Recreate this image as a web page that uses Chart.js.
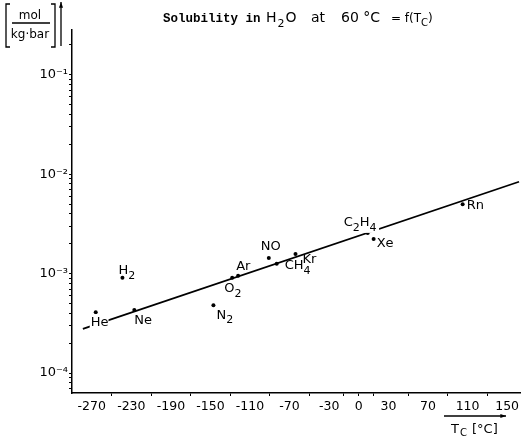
<!DOCTYPE html>
<html>
<head>
<meta charset="utf-8">
<script src="https://cdn.jsdelivr.net/npm/chart.js@4"></script>
<style>
body{margin:0;background:#fff}
</style>
</head>
<body>
<canvas id="canvas" width="525" height="440"></canvas>
<script>
// gases, critical temperature (deg C) and solubility at 60 deg C (mol/kg.bar)
const gases = ['He', 'H2', 'Ne', 'N2', 'O2', 'Ar', 'NO', 'CH4', 'Kr', 'C2H4', 'Xe', 'Rn'];
const tc = [-266, -239, -227, -147, -128, -122, -91, -83, -64, 9, 15, 105];
const solubility = [4.1e-4, 9.1e-4, 4.3e-4, 4.8e-4, 9.1e-4, 9.5e-4, 1.44e-3, 1.26e-3, 1.58e-3, 2.57e-3, 2.23e-3, 5.0e-3];
// fitted straight line (ends)
const fitTc = [-279, 162];
const fitSol = [2.78e-4, 8.4e-3];
// axis ticks
const xTickLabels = [-270, -230, -190, -150, -110, -70, -30, 0, 30, 70, 110, 150];
const xMinorTicks = [-250, -210, -170, -130, -90, -50, -15, 15, 50, 90, 130];

const sup = {'-': '⁻', '0': '⁰', '1': '¹', '2': '²', '3': '³', '4': '⁴', '5': '⁵'};
const SANS = '"DejaVu Sans", sans-serif';

// where each gas label sits relative to its dot, and whether it blanks the line
const labelPos = {
    He: [-5, 10, true], H2: [-4, -7], Ne: [0, 11], N2: [3, 10], O2: [-8, 11], Ar: [-2, -9],
    NO: [-8, -11], CH4: [8, 2], Kr: [7, 6], C2H4: [-24, -10, true], Xe: [3, 5], Rn: [4, 1]
};

// draws text where digits become subscripts, returns end x
function chem(ctx, text, x, y, size, subDigits) {
    ctx.textBaseline = 'middle';
    ctx.textAlign = 'left';
    for (const ch of text) {
        const sub = subDigits && /[0-9]/.test(ch);
        ctx.font = (sub ? size - 2 : size) + 'px ' + SANS;
        ctx.fillText(ch, x, sub ? y + 5 : y);
        x += ctx.measureText(ch).width;
    }
    return x;
}

function arrow(ctx, x1, y1, x2, y2) {
    ctx.beginPath();
    ctx.moveTo(x1, y1);
    ctx.lineTo(x2, y2);
    ctx.stroke();
    const a = Math.atan2(y2 - y1, x2 - x1);
    ctx.beginPath();
    ctx.moveTo(x2, y2);
    ctx.lineTo(x2 - 6 * Math.cos(a - 0.35), y2 - 6 * Math.sin(a - 0.35));
    ctx.lineTo(x2 - 6 * Math.cos(a + 0.35), y2 - 6 * Math.sin(a + 0.35));
    ctx.closePath();
    ctx.fill();
}

const decorations = {
    id: 'decorations',
    afterDatasetsDraw(chart) {
        const ctx = chart.ctx;
        const xs = chart.scales.x, ys = chart.scales.y;
        ctx.save();
        ctx.fillStyle = '#000';
        ctx.strokeStyle = '#000';
        ctx.lineWidth = 1.3;

        // gas labels
        gases.forEach((g, i) => {
            const px = xs.getPixelForValue(tc[i]);
            const py = ys.getPixelForValue(solubility[i]);
            const p = labelPos[g];
            ctx.font = '13px ' + SANS;
            if (p[2]) {
                ctx.fillStyle = '#fff';
                ctx.fillRect(px + p[0] - 1, py + p[1] - 8, ctx.measureText(g).width + 1, 18);
                ctx.fillStyle = '#000';
            }
            chem(ctx, g, px + p[0], py + p[1], 13, true);
        });

        // title
        ctx.textBaseline = 'alphabetic';
        ctx.font = 'bold 12.5px "Liberation Mono", monospace';
        ctx.fillText('Solubility in', 163, 22);
        let x = 266;
        ctx.font = '14px ' + SANS;
        ctx.fillText('H', x, 22); x += ctx.measureText('H').width + 1;
        ctx.font = '11px ' + SANS;
        ctx.fillText('2', x, 27); x += ctx.measureText('2').width + 1;
        ctx.font = '14px ' + SANS;
        ctx.fillText('O', x, 22);
        ctx.fillText('at', 311, 22);
        ctx.fillText('60 °C', 341, 22);
        ctx.font = '12px ' + SANS;
        ctx.fillText('= f(T', 391, 22);
        x = 391 + ctx.measureText('= f(T').width;
        ctx.font = '10px ' + SANS;
        ctx.fillText('C', x, 26); x += ctx.measureText('C').width;
        ctx.font = '12px ' + SANS;
        ctx.fillText(')', x, 22);

        // y unit
        ctx.beginPath();
        ctx.moveTo(10, 4); ctx.lineTo(6, 4); ctx.lineTo(6, 47); ctx.lineTo(10, 47);
        ctx.moveTo(51, 4); ctx.lineTo(55, 4); ctx.lineTo(55, 47); ctx.lineTo(51, 47);
        ctx.moveTo(12, 23); ctx.lineTo(50, 23);
        ctx.stroke();
        ctx.textAlign = 'center';
        ctx.font = '12px ' + SANS;
        ctx.fillText('mol', 30, 19);
        ctx.fillText('kg·bar', 30, 38);
        arrow(ctx, 61, 46, 61, 2);

        // x unit
        arrow(ctx, 444, 416, 506, 416);
        ctx.textAlign = 'left';
        ctx.font = '13px ' + SANS;
        ctx.fillText('T', 451, 433);
        ctx.font = '10px ' + SANS;
        ctx.fillText('C', 460, 436);
        ctx.font = '13px ' + SANS;
        ctx.fillText('[°C]', 472, 433);
        ctx.restore();
    }
};

let ctx = document.getElementById('canvas').getContext('2d');
window.myChart = new Chart(ctx, {
    type: 'scatter',
    data: {
        datasets: [{
            label: 'fit',
            data: fitTc.map((t, i) => ({x: t, y: fitSol[i]})),
            showLine: true,
            borderColor: '#000',
            borderWidth: 1.8,
            pointRadius: 0
        }, {
            label: 'gases',
            data: tc.map((t, i) => ({x: t, y: solubility[i]})),
            backgroundColor: '#000',
            borderColor: '#000',
            pointRadius: 2,
            borderWidth: 0
        }]
    },
    options: {
        responsive: false,
        animation: false,
        layout: {padding: {top: 30, right: 5, left: 0, bottom: 0}},
        plugins: {legend: {display: false}, tooltip: {enabled: false}},
        scales: {
            x: {
                type: 'linear',
                min: -290,
                max: 163,
                afterBuildTicks: (scale) => {
                    scale.ticks = xTickLabels.concat(xMinorTicks).sort((a, b) => a - b).map(v => ({value: v}));
                },
                afterFit: (scale) => { scale.height = 47; },
                border: {color: '#000', width: 1.5},
                grid: {
                    drawOnChartArea: false,
                    tickLength: 3,
                    tickColor: (c) => xTickLabels.includes(c.tick.value) && c.tick.value !== 0 ? 'rgba(0,0,0,0)' : '#000'
                },
                ticks: {
                    autoSkip: false,
                    maxRotation: 0,
                    padding: 3,
                    color: '#000',
                    font: {family: SANS, size: 12.5},
                    callback: (v) => xTickLabels.includes(v) ? String(v) : ''
                }
            },
            y: {
                type: 'logarithmic',
                min: Math.pow(10, -4.2),
                max: Math.pow(10, -0.55),
                afterBuildTicks: (scale) => {
                    const t = [];
                    for (let e = -5; e <= -1; e++) {
                        for (let m = 1; m <= 9; m++) {
                            const v = m * Math.pow(10, e);
                            if (v >= scale.min && v <= scale.max) t.push({value: v});
                        }
                    }
                    scale.ticks = t;
                },
                afterFit: (scale) => { scale.width = 72; },
                border: {color: '#000', width: 1.5},
                grid: {drawOnChartArea: false, tickLength: 3, tickColor: '#000'},
                ticks: {
                    autoSkip: false,
                    padding: 1,
                    color: '#000',
                    font: {family: SANS, size: 13},
                    callback: (v) => {
                        const e = Math.log10(v);
                        if (Math.abs(e - Math.round(e)) > 1e-6) return '';
                        return '10' + String(Math.round(e)).split('').map(c => sup[c]).join('');
                    }
                }
            }
        }
    },
    plugins: [decorations]
});
</script>
</body>
</html>
